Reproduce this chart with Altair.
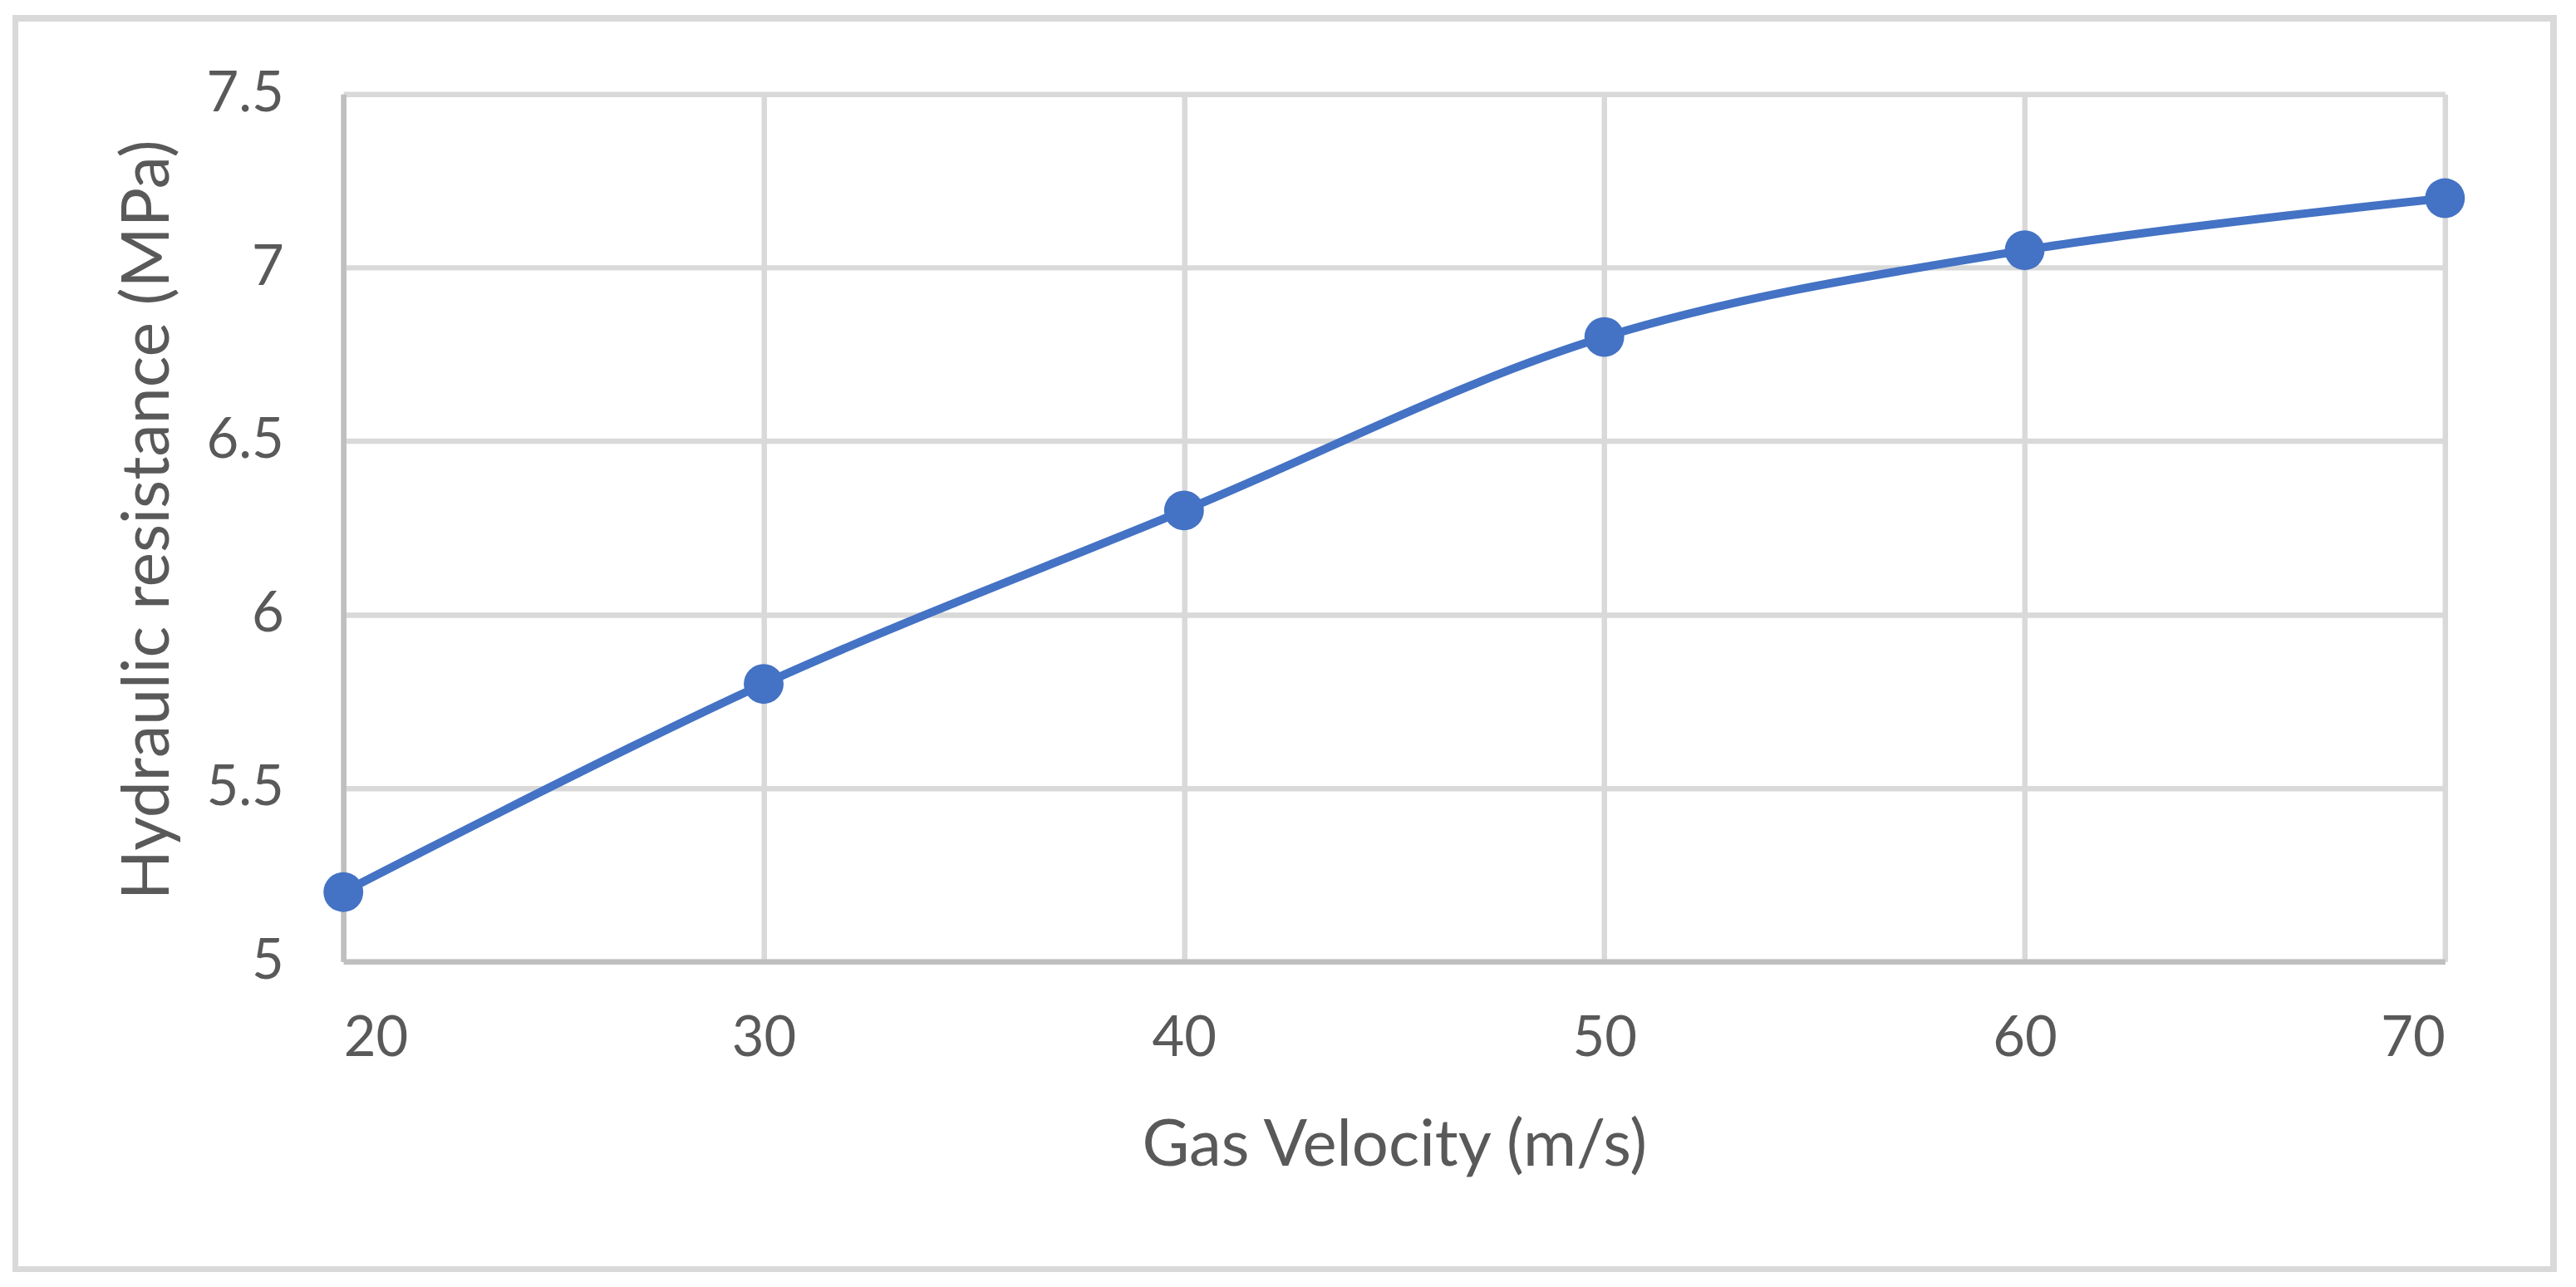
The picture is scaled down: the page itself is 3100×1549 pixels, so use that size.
import altair as alt
import pandas as pd

# Gas velocity vs hydraulic resistance
velocity = [20, 30, 40, 50, 60, 70]
resistance = [5.2, 5.8, 6.3, 6.8, 7.05, 7.2]
x_ticks = [20, 30, 40, 50, 60, 70]
y_ticks = [5, 5.5, 6, 6.5, 7, 7.5]

df = pd.DataFrame({'velocity': velocity, 'resistance': resistance})

FONT = 'Lato'
TEXT = '#595959'
BLUE = '#4472c4'

x_enc = alt.X('velocity', type='quantitative',
              scale=alt.Scale(domain=[20, 70], nice=False, zero=False),
              axis=alt.Axis(title='Gas Velocity (m/s)', values=x_ticks, format='d',
                            labelFontSize=67, labelColor=TEXT, labelFont=FONT,
                            labelPadding=60, ticks=False,
                            domainColor='#bfbfbf', domainWidth=6.5,
                            gridColor='#d9d9d9', gridWidth=6.5,
                            titleFont=FONT, titleFontSize=78, titleFontWeight='normal',
                            titleColor=TEXT, titleY=246, titleBaseline='alphabetic'))
y_enc = alt.Y('resistance', type='quantitative',
              scale=alt.Scale(domain=[5, 7.5], nice=False, zero=False),
              axis=alt.Axis(title='Hydraulic resistance (MPa)', values=y_ticks,
                            labelExpr="datum.value == 7.5 || datum.value == 6.5 || datum.value == 5.5 ? format(datum.value, '.1f') : format(datum.value, 'd')",
                            labelFontSize=67, labelColor=TEXT, labelFont=FONT,
                            labelPadding=72, ticks=False,
                            domainColor='#bfbfbf', domainWidth=6.5,
                            gridColor='#d9d9d9', gridWidth=6.5,
                            titleFont=FONT, titleFontSize=79, titleFontWeight='normal',
                            titleColor=TEXT, titleAngle=270, titleX=-211, titleY=513,
                            titleAlign='center', titleBaseline='alphabetic'))

line = alt.Chart(df).mark_line(color=BLUE, strokeWidth=10, interpolate='catmull-rom').encode(x_enc, y_enc)
points = alt.Chart(df).mark_point(filled=True, color=BLUE, size=2304, opacity=1).encode(x_enc, y_enc)

# chart area border
frame = alt.Chart(df).mark_rect(fill=None, stroke='#d9d9d9', strokeWidth=7, clip=False).encode(
    x=alt.value(-395.5), x2=alt.value(2665), y=alt.value(-91.5), y2=alt.value(1417))

chart = alt.layer(frame, line, points).properties(
    width=2534, height=1046,
    autosize=alt.AutoSizeParams(type='none'),
    padding={'left': 406, 'top': 104, 'right': 150, 'bottom': 380},
    background='white'
).configure_view(stroke=None)

chart.save("out.html", embed_options={"renderer": "svg", "actions": False})
